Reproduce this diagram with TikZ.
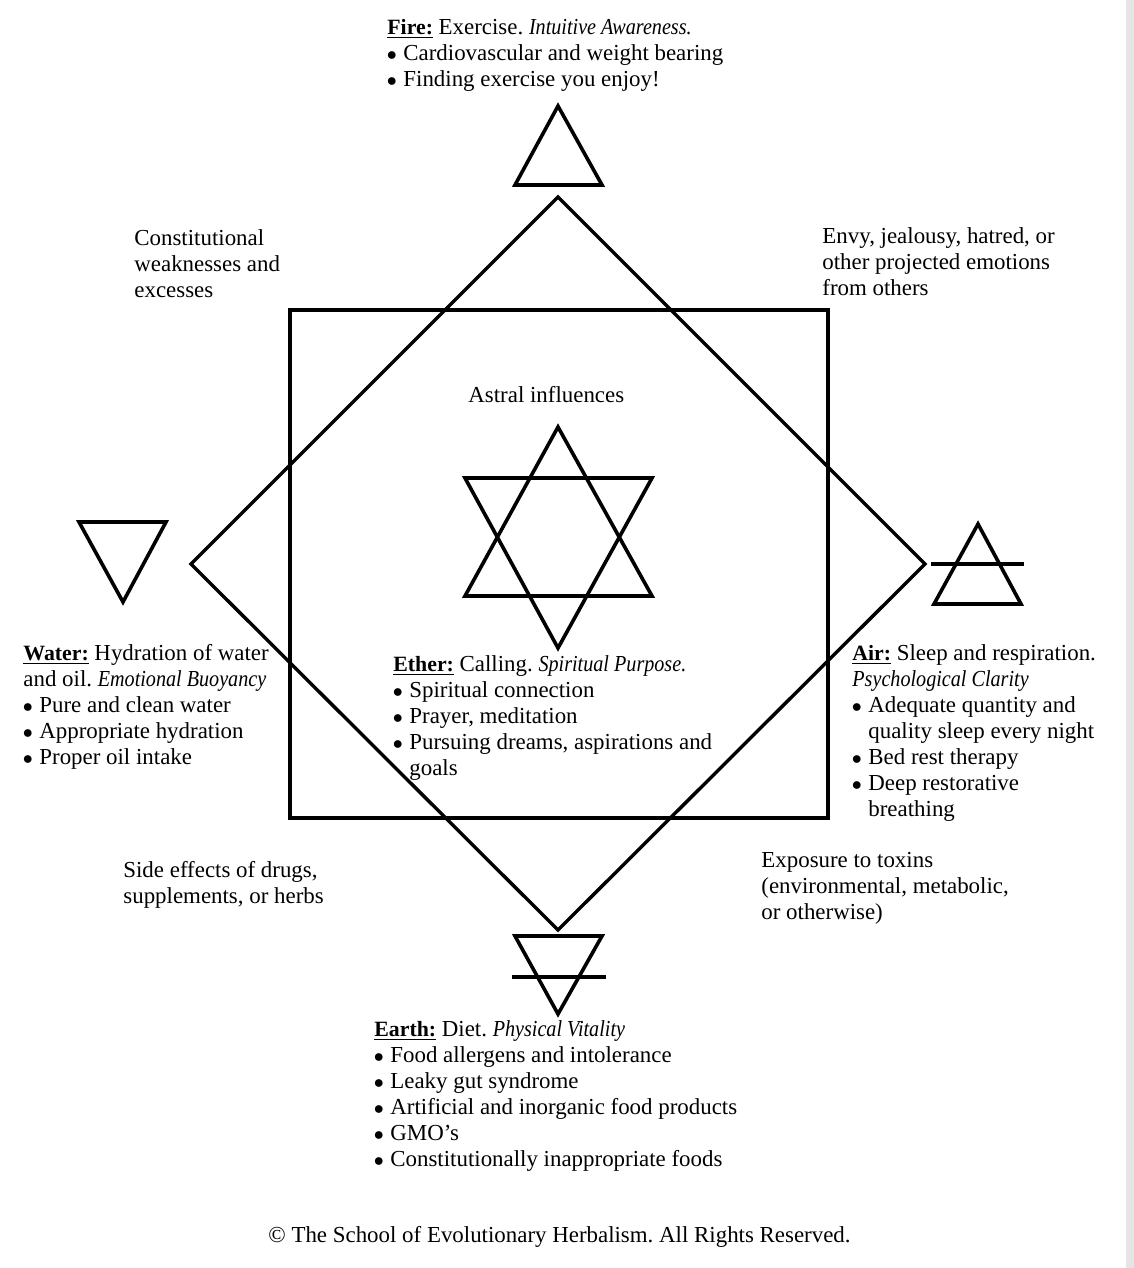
\documentclass[tikz,border=0pt]{standalone}
\usepackage{fontspec}
\setmainfont[ItalicFeatures={FakeStretch=0.88}]{Liberation Serif}
\usepackage{tikz}
\usetikzlibrary{positioning}
\newcommand{\elem}[1]{$\underline{\hbox{\fontsize{10.9}{13}\selectfont\textbf{#1}}}$}
\newcommand{\bul}{\makebox[8pt][l]{\fontsize{10.4}{13}\selectfont\hspace{-0.3pt}$\bullet$}}

\begin{document}
\begin{tikzpicture}[
      x=0.5pt,y=-0.5pt,
      frame/.style={draw,line width=1.7pt,line join=miter},
      sym/.style={draw,line width=1.8pt},
      txt/.style={anchor=north west,inner sep=0pt,align=left,font=\fontsize{11.45}{13}\selectfont\frenchspacing}]
    \useasboundingbox (0,0) rectangle (1134,1268);
    \fill[white] (0,0) rectangle (1134,1268);
    \fill[black!10] (1126,0) rectangle (1134,1268);

    % square and diamond
    \coordinate (sqa) at (290,310);
    \coordinate (sqb) at (828,818);
    \draw[frame] (sqa) rectangle (sqb);
    \coordinate (top) at (558,197);
    \coordinate (right) at (925,564);
    \coordinate (bottom) at (558,930);
    \coordinate (left) at (191,564);
    \draw[frame] (top) -- (right) -- (bottom) -- (left) -- cycle;

    % element symbols
    \draw[sym] (558,106) -- (602,185) -- (515,185) -- cycle;
    \draw[sym] (79,522) -- (166,522) -- (123,602) -- cycle;
    \draw[sym] (978,524) -- (1021,604) -- (934,604) -- cycle;
    \draw[sym] (931,564) -- (1024,564);
    \draw[sym] (515,936) -- (602,936) -- (558,1014) -- cycle;
    \draw[sym] (512,977) -- (606,977);

    % star
    \draw[sym] (558,427) -- (652,596) -- (465,596) -- cycle;
    \draw[sym] (465,478) -- (652,478) -- (558,648) -- cycle;

    \node[txt] (fire) at (387,19) {\elem{Fire:} Exercise. \textit{Intuitive Awareness.}\\
      \bul Cardiovascular and weight bearing\\
      \bul Finding exercise you enjoy!};
    \node[txt] (weak) at (134,229) {Constitutional\\weaknesses and\\excesses};
    \node[txt] (envy) at (822,227) {Envy, jealousy, hatred, or\\other projected emotions\\from others};
    \node[txt] (astral) at (468,386) {Astral influences};
    \node[txt] (water) at (23,644) {\elem{Water:} Hydration of water\\and oil. \textit{Emotional Buoyancy}\\
      \bul Pure and clean water\\
      \bul Appropriate hydration\\
      \bul Proper oil intake};
    \node[txt] (ether) at (393,655) {\elem{Ether:} Calling. \textit{Spiritual Purpose.}\\
      \bul Spiritual connection\\
      \bul Prayer, meditation\\
      \bul Pursuing dreams, aspirations and\\
      \hspace*{8pt}goals};
    \node[txt] (air) at (852,644) {\elem{Air:} Sleep and respiration.\\\textit{Psychological Clarity}\\
      \bul Adequate quantity and\\
      \hspace*{8pt}quality sleep every night\\
      \bul Bed rest therapy\\
      \bul Deep restorative\\
      \hspace*{8pt}breathing};
    \node[txt] (drugs) at (123,861) {Side effects of drugs,\\supplements, or herbs};
    \node[txt] (toxins) at (761,852) {Exposure to toxins\\(environmental, metabolic,\\or otherwise)};
    \node[txt] (earth) at (374,1020) {\elem{Earth:} Diet. \textit{Physical Vitality}\\
      \bul Food allergens and intolerance\\
      \bul Leaky gut syndrome\\
      \bul Artificial and inorganic food products\\
      \bul GMO’s\\
      \bul Constitutionally inappropriate foods};
    \node[txt] (rights) at (268,1226) {© The School of Evolutionary Herbalism. All Rights Reserved.};
  \end{tikzpicture}
\end{document}
